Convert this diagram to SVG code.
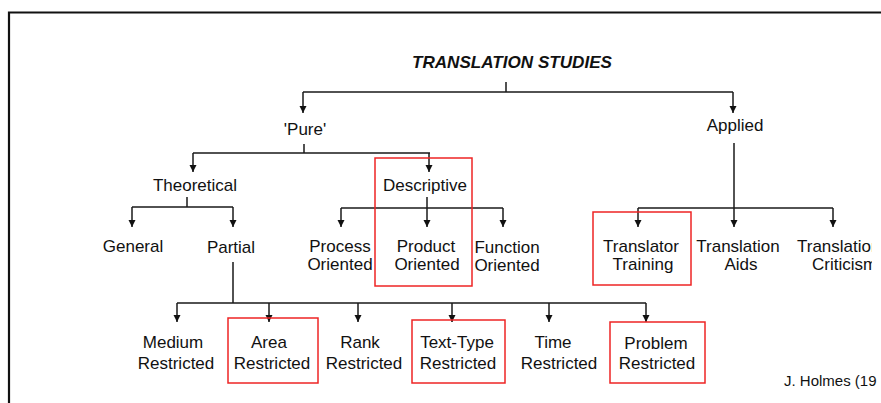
<svg xmlns="http://www.w3.org/2000/svg" width="881" height="403" viewBox="0 0 881 403">
  <style>
    text { font-family: "Liberation Sans", Arial, sans-serif; font-size: 17px; fill: #111; }
    .mid { text-anchor: middle; }
    .title { font-size: 17px; font-weight: bold; font-style: italic; }
    .note { font-size: 15px; }
    .wire { fill: none; stroke: #1a1a1a; stroke-width: 1.5; }
    .arrow { fill: none; stroke: #1a1a1a; stroke-width: 1.5; marker-end: url(#head); }
    .hl { fill: none; stroke: #ee2424; stroke-width: 1.5; }
    .frame { fill: none; stroke: #111; stroke-width: 2.2; }
  </style>
  <defs>
    <marker id="head" markerUnits="userSpaceOnUse" markerWidth="8" markerHeight="8" viewBox="0 -4 8 8" refX="7" refY="0" orient="auto">
      <path d="M0,-3.5 L7,0 L0,3.5 z" fill="#111"/>
    </marker>
    <clipPath id="edge">
      <rect x="0" y="0" width="872" height="403"/>
    </clipPath>
  </defs>

  <rect width="881" height="403" fill="#fff"/>

  <!-- page frame -->
  <path class="frame" d="M9,403 V12.5 H881"/>

  <!-- tree connectors -->
  <g id="connectors">
    <path class="wire" d="M506,82 V92 M303,92 H733"/>
    <path class="arrow" d="M303,92 V113"/>
    <path class="arrow" d="M733,92 V113"/>

    <path class="wire" d="M304,144 V153 M193,153 H430"/>
    <path class="arrow" d="M193,153 V172"/>
    <path class="arrow" d="M429,153 V172"/>

    <path class="wire" d="M187,197 V207 M132,207 H233"/>
    <path class="arrow" d="M132,207 V227"/>
    <path class="arrow" d="M233,207 V227"/>

    <path class="wire" d="M341,208 H503"/>
    <path class="arrow" d="M427,197 V227"/>
    <path class="arrow" d="M341,208 V227"/>
    <path class="arrow" d="M503,208 V227"/>

    <path class="wire" d="M638,208 H833"/>
    <path class="arrow" d="M734,143 V227"/>
    <path class="arrow" d="M638,208 V227"/>
    <path class="arrow" d="M833,208 V227"/>

    <path class="wire" d="M233,262 V303 M177,303 H646"/>
    <path class="arrow" d="M177,303 V322"/>
    <path class="arrow" d="M269,303 V322"/>
    <path class="arrow" d="M358,303 V322"/>
    <path class="arrow" d="M452,303 V322"/>
    <path class="arrow" d="M549,303 V322"/>
    <path class="arrow" d="M646,303 V322"/>
  </g>

  <!-- nodes -->
  <g id="translation-studies">
    <text class="title mid" x="512" y="68" textLength="200" lengthAdjust="spacingAndGlyphs">TRANSLATION STUDIES</text>
  </g>
  <g id="pure">
    <text class="mid" x="305" y="135">'Pure'</text>
  </g>
  <g id="applied">
    <text class="mid" x="735" y="131">Applied</text>
  </g>
  <g id="theoretical">
    <text class="mid" x="195" y="191">Theoretical</text>
  </g>
  <g id="descriptive">
    <rect class="hl" x="375" y="158" width="97" height="128"/>
    <text class="mid" x="425" y="191">Descriptive</text>
  </g>
  <g id="general">
    <text class="mid" x="133" y="252">General</text>
  </g>
  <g id="partial">
    <text class="mid" x="231" y="253">Partial</text>
  </g>
  <g id="process-oriented">
    <text class="mid" x="340" y="252">Process</text>
    <text class="mid" x="340" y="270">Oriented</text>
  </g>
  <g id="product-oriented">
    <text class="mid" x="426" y="252">Product</text>
    <text class="mid" x="427" y="270">Oriented</text>
  </g>
  <g id="function-oriented">
    <text class="mid" x="507" y="253">Function</text>
    <text class="mid" x="507" y="271">Oriented</text>
  </g>
  <g id="translator-training">
    <rect class="hl" x="593" y="212" width="98" height="73"/>
    <text class="mid" x="641" y="252">Translator</text>
    <text class="mid" x="643" y="270">Training</text>
  </g>
  <g id="translation-aids">
    <text class="mid" x="738" y="252">Translation</text>
    <text class="mid" x="741" y="270">Aids</text>
  </g>
  <g id="translation-criticism" clip-path="url(#edge)">
    <text x="797" y="252">Translation</text>
    <text x="812" y="270">Criticism</text>
  </g>

  <g id="medium-restricted">
    <text class="mid" x="173" y="348">Medium</text>
    <text class="mid" x="176" y="369">Restricted</text>
  </g>
  <g id="area-restricted">
    <rect class="hl" x="228" y="318" width="90" height="65"/>
    <text class="mid" x="269" y="348">Area</text>
    <text class="mid" x="272" y="369">Restricted</text>
  </g>
  <g id="rank-restricted">
    <text class="mid" x="360" y="348">Rank</text>
    <text class="mid" x="364" y="369">Restricted</text>
  </g>
  <g id="text-type-restricted">
    <rect class="hl" x="412" y="320" width="93" height="63"/>
    <text class="mid" x="457" y="348">Text-Type</text>
    <text class="mid" x="458" y="369">Restricted</text>
  </g>
  <g id="time-restricted">
    <text class="mid" x="553" y="348">Time</text>
    <text class="mid" x="559" y="369">Restricted</text>
  </g>
  <g id="problem-restricted">
    <rect class="hl" x="610" y="322" width="95" height="61"/>
    <text class="mid" x="656" y="349">Problem</text>
    <text class="mid" x="657" y="369">Restricted</text>
  </g>

  <g id="source-note">
    <text class="note" x="784" y="386">J. Holmes (19</text>
  </g>
</svg>
